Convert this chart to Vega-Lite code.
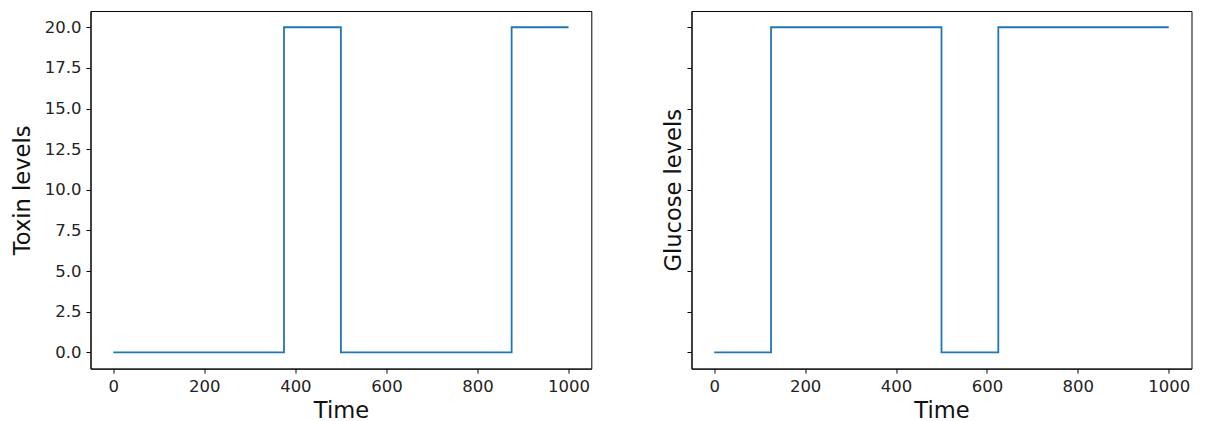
{
  "$schema": "https://vega.github.io/schema/vega-lite/v6.json",
  "autosize": {"type": "pad"},
  "padding": {"left": 10.5, "top": 10, "right": 5, "bottom": 0},
  "background": "white",
  "bounds": "flush",
  "spacing": 100,
  "datasets": {
    "toxin": [
      {"time": 0, "level": 0},
      {"time": 375, "level": 20},
      {"time": 500, "level": 0},
      {"time": 875, "level": 20},
      {"time": 1000, "level": 20}
    ],
    "glucose": [
      {"time": 0, "level": 0},
      {"time": 125, "level": 20},
      {"time": 500, "level": 0},
      {"time": 625, "level": 20},
      {"time": 1000, "level": 20}
    ]
  },
  "config": {
    "font": "DejaVu Sans",
    "view": {"stroke": "#000", "strokeWidth": 1},
    "axis": {
      "grid": false,
      "domainColor": "#000",
      "domainWidth": 1,
      "tickColor": "#000",
      "tickWidth": 1,
      "tickSize": 4.5,
      "labelFont": "DejaVu Sans",
      "labelFontSize": 16.5,
      "labelColor": "#222",
      "titleFont": "DejaVu Sans",
      "titleFontSize": 22.6,
      "titleFontWeight": "normal",
      "titleColor": "#111"
    }
  },
  "hconcat": [
    {
      "width": 500.8,
      "height": 357.6,
      "data": {"name": "toxin"},
      "mark": {"type": "line", "interpolate": "step-after", "color": "#1f77b4", "strokeWidth": 1.8},
      "encoding": {
        "x": {
          "field": "time", "type": "quantitative",
          "scale": {"domain": [-50, 1050], "nice": false, "zero": false},
          "axis": {"title": "Time", "values": [0, 200, 400, 600, 800, 1000], "format": "d", "labelPadding": 5.5, "titlePadding": 4, "labelFlush": false}
        },
        "y": {
          "field": "level", "type": "quantitative",
          "scale": {"domain": [-1, 21], "nice": false, "zero": false},
          "axis": {"title": "Toxin levels", "values": [0, 2.5, 5, 7.5, 10, 12.5, 15, 17.5, 20], "format": ".1f", "labelPadding": 5, "titlePadding": 9.6, "labelFlush": false}
        }
      }
    },
    {
      "width": 500,
      "height": 357.6,
      "data": {"name": "glucose"},
      "mark": {"type": "line", "interpolate": "step-after", "color": "#1f77b4", "strokeWidth": 1.8},
      "encoding": {
        "x": {
          "field": "time", "type": "quantitative",
          "scale": {"domain": [-50, 1050], "nice": false, "zero": false},
          "axis": {"title": "Time", "values": [0, 200, 400, 600, 800, 1000], "format": "d", "labelPadding": 5.5, "titlePadding": 4, "labelFlush": false}
        },
        "y": {
          "field": "level", "type": "quantitative",
          "scale": {"domain": [-1, 21], "nice": false, "zero": false},
          "axis": {"title": "Glucose levels", "values": [0, 2.5, 5, 7.5, 10, 12.5, 15, 17.5, 20], "labels": false, "titlePadding": 1}
        }
      }
    }
  ]
}
